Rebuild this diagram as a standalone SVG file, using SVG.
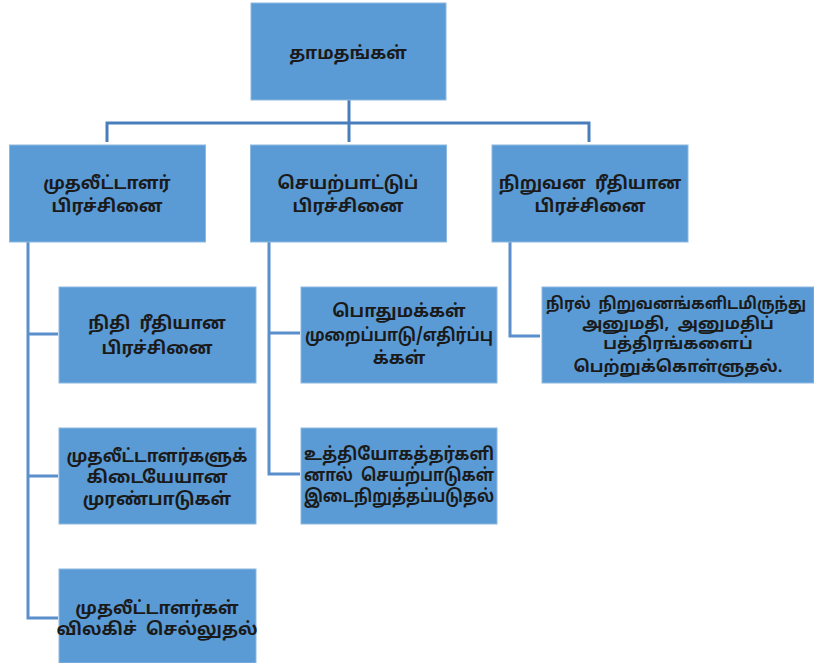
<svg xmlns="http://www.w3.org/2000/svg" width="814" height="663" viewBox="0 0 814 663">
<style>
.box{fill:#5B9BD5;stroke:#8DB8E2;stroke-width:1}
.t{font-family:"Noto Sans Tamil","Lohit Tamil","Latha","Noto Sans","DejaVu Sans",sans-serif;font-size:17.5px;font-weight:bold;fill:#1a1a1a;text-anchor:middle;white-space:pre}
.s{font-size:16.5px}
.c1{fill:none;stroke:#4A7EBB;stroke-width:3}
.c2{fill:none;stroke:#5B8FCB;stroke-width:3}
</style>
<rect width="814" height="663" fill="#ffffff"/>
<g id="connectors">
<path class="c1" d="M349 100V123M107 142V123H589V142M349 123V142"/>
<path class="c2" d="M28 242V618H58M28 334H58M28 476H58"/>
<path class="c2" d="M269 242V474H300M269 333H300"/>
<path class="c2" d="M510 242V336H540"/>
</g>
<g id="n0"><rect class="box" x="251" y="3" width="195" height="97"/><text class="t" x="348" y="59">தாமதங்கள்</text></g>
<g id="n1"><rect class="box" x="9.5" y="145" width="196" height="97"/><text class="t" x="107" y="189">முதலீட்டாளர்</text><text class="t" x="107" y="212">பிரச்சினை</text></g>
<g id="n2"><rect class="box" x="250.5" y="145" width="196" height="97"/><text class="t" x="348" y="189">செயற்பாட்டுப்</text><text class="t" x="348" y="212">பிரச்சினை</text></g>
<g id="n3"><rect class="box" x="492" y="145" width="196" height="97"/><text class="t" x="590" y="189" xml:space="preserve">நிறுவன  ரீதியான</text><text class="t" x="590" y="212">பிரச்சினை</text></g>
<g id="n4"><rect class="box" x="59" y="287" width="197" height="96"/><text class="t" x="157" y="329" xml:space="preserve">நிதி  ரீதியான</text><text class="t" x="157" y="354">பிரச்சினை</text></g>
<g id="n5"><rect class="box" x="59" y="428" width="197" height="96"/><text class="t" x="157" y="462" textLength="181" lengthAdjust="spacingAndGlyphs">முதலீட்டாளர்களுக்</text><text class="t" x="157" y="483">கிடையேயான</text><text class="t" x="157" y="505">முரண்பாடுகள்</text></g>
<g id="n6"><rect class="box" x="59" y="569" width="197" height="94"/><text class="t" x="157" y="614">முதலீட்டாளர்கள்</text><text class="t" x="157" y="635" xml:space="preserve">விலகிச்  செல்லுதல்</text></g>
<g id="n7"><rect class="box" x="301" y="287" width="196" height="96"/><text class="t" x="399" y="317">பொதுமக்கள்</text><text class="t" x="399" y="341" textLength="188" lengthAdjust="spacingAndGlyphs">முறைப்பாடு/எதிர்ப்பு</text><text class="t" x="399" y="364">க்கள்</text></g>
<g id="n8"><rect class="box" x="301" y="428" width="196" height="96"/><text class="t" x="399" y="460" textLength="190" lengthAdjust="spacingAndGlyphs">உத்தியோகத்தர்களி</text><text class="t" x="399" y="481" xml:space="preserve" textLength="190" lengthAdjust="spacingAndGlyphs">னால்  செயற்பாடுகள்</text><text class="t" x="399" y="502" textLength="190" lengthAdjust="spacingAndGlyphs">இடைநிறுத்தப்படுதல்</text></g>
<g id="n9"><rect class="box" x="542" y="287" width="272" height="96"/><text class="t s" x="546" y="309" style="text-anchor:start" xml:space="preserve" textLength="260" lengthAdjust="spacingAndGlyphs">நிரல்  நிறுவனங்களிடமிருந்து</text><text class="t s" x="678" y="329" xml:space="preserve">அனுமதி,  அனுமதிப்</text><text class="t s" x="678" y="349">பத்திரங்களைப்</text><text class="t s" x="678" y="372">பெற்றுக்கொள்ளுதல்.</text></g>
</svg>
